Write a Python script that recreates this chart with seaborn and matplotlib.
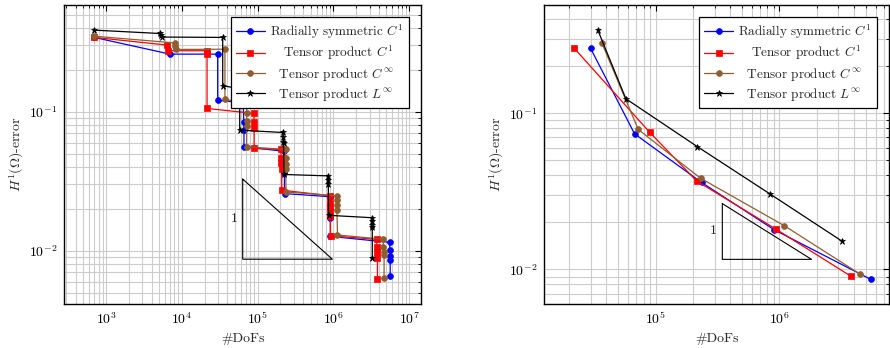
import numpy as np
import pandas as pd
import matplotlib
matplotlib.use("Agg")
import matplotlib.pyplot as plt
import seaborn as sns
from matplotlib.ticker import LogLocator, NullFormatter

# ---------------- Left panel data (adaptive steps) ----------------
rad_c1_dofs = [700, 6980, 29700, 29700, 64700, 65500, 66000, 66000,
               222000, 224000, 225000, 226000,
               900000, 905000, 910000, 910000,
               5.5e6, 5.55e6, 5.6e6, 5.6e6, 5.6e6]
rad_c1_err = [0.343, 0.26, 0.26, 0.121, 0.116, 0.0847, 0.0738, 0.056,
              0.052, 0.045, 0.0364, 0.0258,
              0.0245, 0.020, 0.0171, 0.0127,
              0.0115, 0.0101, 0.0091, 0.0086, 0.0066]

tp_c1_dofs = [700, 6440, 6550, 21300, 21500, 21500,
              89500, 89500, 89800, 89800,
              203000, 204000, 206000, 208000, 208000,
              900000, 905000, 905000, 910000, 910000, 915000,
              3.72e6, 3.74e6, 3.78e6, 3.8e6, 3.8e6]
tp_c1_err = [0.343, 0.302, 0.275, 0.275, 0.2585, 0.1057,
             0.0973, 0.0847, 0.0759, 0.0545,
             0.0536, 0.0462, 0.0425, 0.039, 0.0273,
             0.0249, 0.0219, 0.0205, 0.0191, 0.0178, 0.0128,
             0.0121, 0.0107, 0.0098, 0.0089, 0.0063]

tp_cinf_dofs = [700, 8130, 8200, 8250, 37000, 37000,
                71600, 71600, 71600, 71600, 71600,
                234000, 234000, 234000, 234000, 237000,
                1.1e6, 1.11e6, 1.11e6, 1.11e6, 1.13e6,
                4.54e6, 4.57e6, 4.6e6, 4.65e6, 4.65e6]
tp_cinf_err = [0.35, 0.313, 0.297, 0.281, 0.282, 0.1227,
               0.1168, 0.098, 0.086, 0.0789, 0.056,
               0.0536, 0.0462, 0.0418, 0.039, 0.0265,
               0.0249, 0.0231, 0.0213, 0.0196, 0.013,
               0.0121, 0.0107, 0.0098, 0.0093, 0.0064]

tp_linf_dofs = [695, 5150, 5250, 5400, 34600, 34600,
                57300, 57300, 58000, 58000,
                214000, 216000, 218000, 220000, 222000,
                837000, 845000, 855000, 860000,
                3.19e6, 3.22e6, 3.25e6, 3.25e6, 3.25e6]
tp_linf_err = [0.387, 0.366, 0.355, 0.345, 0.343, 0.154,
               0.147, 0.137, 0.128, 0.0738,
               0.071, 0.066, 0.0609, 0.0592, 0.0354,
               0.0346, 0.0322, 0.030, 0.018,
               0.0173, 0.0163, 0.0153, 0.0149, 0.0089]

# ---------------- Right panel data ----------------
r_rad_c1_dofs = [29800, 67600, 235000, 912000, 5.48e6]
r_rad_c1_err = [0.26, 0.0737, 0.036, 0.0179, 0.00863]
r_tp_c1_dofs = [21900, 89400, 214600, 934000, 3.77e6]
r_tp_c1_err = [0.2614, 0.0755, 0.0368, 0.01814, 0.00906]
r_tp_cinf_dofs = [36800, 72400, 231000, 1.1e6, 4.49e6]
r_tp_cinf_err = [0.281, 0.0786, 0.0383, 0.019, 0.00933]
r_tp_linf_dofs = [34000, 57500, 217000, 840000, 3.19e6]
r_tp_linf_err = [0.342, 0.1236, 0.0611, 0.0304, 0.0152]

# slope triangles (slope -1/2)
left_tri_x = [63500, 63500, 966000, 63500]
left_tri_y = [0.0328, 0.0087, 0.0087, 0.0328]
right_tri_x = [346000, 346000, 1.82e6, 346000]
right_tri_y = [0.02636, 0.01159, 0.01159, 0.02636]

labels = ["Radially symmetric $C^1$",
          "   Tensor product $C^1$",
          "  Tensor product $C^\\infty$",
          "  Tensor product $L^\\infty$"]
colors = ["#0000ff", "#ff0000", "#8f5e30", "#000000"]
markers = ["o", "s", "o", "*"]

sns.set_theme(style="white")
plt.rcParams["font.family"] = ["cmr10", "DejaVu Serif"]
plt.rcParams["mathtext.fontset"] = "cm"
plt.rcParams["axes.unicode_minus"] = False
plt.rcParams["axes.formatter.use_mathtext"] = True

fig = plt.figure(figsize=(8.9, 3.48), dpi=100)
axL = fig.add_axes([0.0723, 0.1264, 0.4008, 0.859])
axR = fig.add_axes([0.6116, 0.1264, 0.3876, 0.859])


def draw(ax, series):
    for (xs, ys), lab, col, mk in zip(series, labels, colors, markers):
        df = pd.DataFrame({"dofs": xs, "err": ys})
        ms = 4.5 if mk == "*" else 4.2
        sns.lineplot(data=df, x="dofs", y="err", ax=ax, sort=False,
                     estimator=None, color=col, marker=mk, markersize=ms,
                     markeredgecolor=col, markeredgewidth=0.5,
                     linewidth=0.9, label=lab)


draw(axL, [(rad_c1_dofs, rad_c1_err), (tp_c1_dofs, tp_c1_err),
           (tp_cinf_dofs, tp_cinf_err), (tp_linf_dofs, tp_linf_err)])
draw(axR, [(r_rad_c1_dofs, r_rad_c1_err), (r_tp_c1_dofs, r_tp_c1_err),
           (r_tp_cinf_dofs, r_tp_cinf_err), (r_tp_linf_dofs, r_tp_linf_err)])

axL.plot(left_tri_x, left_tri_y, color="black", lw=0.8)
axR.plot(right_tri_x, right_tri_y, color="black", lw=0.8)
axL.text(49200, 0.0169, "1", fontsize=10, ha="center", va="center")
axR.text(294000, 0.0176, "1", fontsize=10, ha="center", va="center")

for ax, xl, yl in [(axL, (282, 1.43e7), (0.00414, 0.586)),
                   (axR, (12600, 7.74e6), (0.006, 0.492))]:
    ax.set_xscale("log")
    ax.set_yscale("log")
    ax.set_xlim(*xl)
    ax.set_ylim(*yl)
    for axis in (ax.xaxis, ax.yaxis):
        axis.set_major_locator(LogLocator(base=10))
        axis.set_minor_locator(LogLocator(base=10, subs=np.arange(2, 10)))
        axis.set_minor_formatter(NullFormatter())
    ax.grid(True, which="both", color="#cccccc", lw=0.8)
    ax.set_axisbelow(True)
    ax.tick_params(which="both", direction="in", top=True, right=True,
                   colors="black", labelsize=10)
    ax.tick_params(which="major", length=4, width=0.8, pad=5)
    ax.tick_params(which="minor", length=2, width=0.6)
    for s in ax.spines.values():
        s.set_color("black")
        s.set_linewidth(1.0)
    ax.set_xlabel("#DoFs", fontsize=10, labelpad=4)
    ax.set_ylabel("$H^1(\\Omega)$-error", fontsize=10, labelpad=2)
    leg = ax.legend(loc="upper right", fontsize=9.5, frameon=True,
                    fancybox=False, framealpha=1, edgecolor="black",
                    borderaxespad=0.9, handlelength=2.2, labelspacing=0.25,
                    borderpad=0.4, handletextpad=0.4)
    leg.get_frame().set_linewidth(0.9)

fig.savefig("out.png", dpi=100)
